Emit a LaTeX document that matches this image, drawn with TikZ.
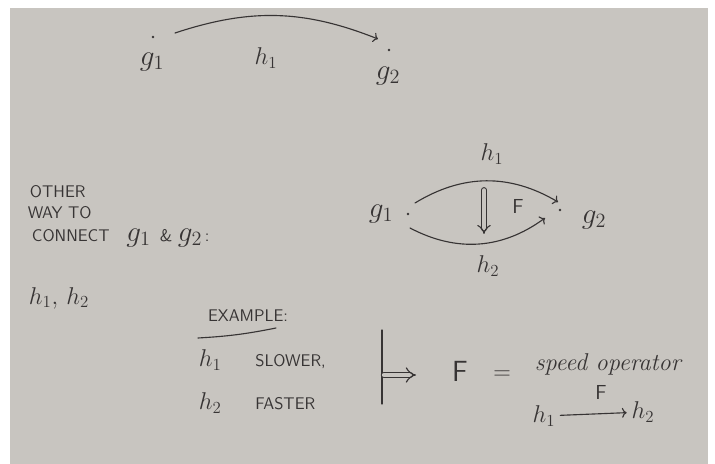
\documentclass[tikz,border=0pt]{standalone}
\definecolor{Paper}{RGB}{200,197,192}
\definecolor{Pencil}{RGB}{55,52,52}
\usepackage{amsmath, amssymb}
\usepackage{xcolor}
\usepackage{tikz}
\usetikzlibrary{arrows.meta}

\begin{document}
\begin{tikzpicture}[x=0.025cm, y=-0.025cm, every node/.style={text=Pencil}, line cap=round]
            % Page
            \useasboundingbox (0,0) rectangle (715,464);
            \fill[white] (0,0) rectangle (715,464);
            \fill[Paper] (10,8) rectangle (708,464);

            % Top: one way from g1 to g2
            \node[font=\huge] (ga) at (152,62) {$g_1$};
            \node[font=\LARGE] (ha) at (266,58) {$h_1$};
            \node[font=\huge] (gb) at (388,76) {$g_2$};
            \coordinate (gadot) at (175,33);
            \coordinate (gbdot) at (378,39);
            \fill[Pencil] (153,37) circle (1.3);
            \fill[Pencil] (389,50) circle (1.3);

            % Left notes
            \node[font=\sffamily\large, anchor=west] (other) at (25,192) {OTHER};
            \node[font=\sffamily\large, anchor=west] (way) at (23,213) {WAY TO};
            \node[font=\sffamily\large, anchor=west] (connect) at (27,238) {CONNECT\quad\huge$g_1$ \large\& \huge$g_2$\large\,:};
            \node[font=\LARGE, anchor=west] (hh) at (24,298) {$h_1,\, h_2$};

            % Middle: two ways from g1 to g2
            \node[font=\huge] (gc) at (381,214) {$g_1$};
            \node[font=\huge] (gd) at (594,220) {$g_2$};
            \node[font=\LARGE] (hb) at (492,154) {$h_1$};
            \node[font=\LARGE] (hc) at (488,266) {$h_2$};
            \node[font=\sffamily\Large] (fa) at (518,206) {F};
            \coordinate (gcup) at (415,203);
            \coordinate (gcdown) at (410,228);
            \coordinate (gdup) at (558,202);
            \coordinate (gddown) at (545,218);
            \coordinate (fatop) at (484,190);
            \coordinate (fabot) at (484,234);
            \fill[Pencil] (408,214) circle (1.3);
            \fill[Pencil] (560,210) circle (1.3);

            % Bottom: example
            \node[font=\sffamily\large] (example) at (248,316) {EXAMPLE:};
            \coordinate (ula) at (198,338);
            \coordinate (ulb) at (276,328);
            \node[font=\sffamily\large, anchor=west] (slower) at (194,360) {\LARGE$h_1$\large\qquad SLOWER,};
            \node[font=\sffamily\large, anchor=west] (faster) at (194,403) {\LARGE$h_2$\large\qquad FASTER};
            \coordinate (bartop) at (382,330);
            \coordinate (barbot) at (382,404);
            \coordinate (impa) at (384,375);
            \coordinate (impb) at (416,375);
            \node[font=\sffamily\huge] (fb) at (460,371) {F};
            \node[font=\LARGE] (eq) at (502,375) {$=$};
            \node[font=\itshape\LARGE, anchor=west] (speed) at (530,364) {speed operator};
            \node[font=\LARGE] (hd) at (544,416) {$h_1$};
            \node[font=\LARGE] (he) at (643,412) {$h_2$};
            \node[font=\sffamily\Large] (fc) at (601,392) {F};

            % Arrows
            \draw[->, thick, Pencil] (gadot) to[bend left=20] (gbdot);
            \draw[->, thick, Pencil] (gcup) to[bend left=31] (gdup);
            \draw[->, thick, Pencil] (gcdown) to[bend right=32] (gddown);
            \draw[-{Implies}, double=Paper, double distance=2.5pt, thick, Pencil] (fatop) -- (fabot);
            \draw[thick, Pencil] (ula) to[bend right=4] (ulb);
            \draw[thick, Pencil] (bartop) -- (barbot);
            \draw[-{Implies}, double=Paper, double distance=3pt, thick, Pencil] (impa) -- (impb);
            \draw[->, thick, Pencil] (hd) -- (he);
        \end{tikzpicture}
\end{document}
